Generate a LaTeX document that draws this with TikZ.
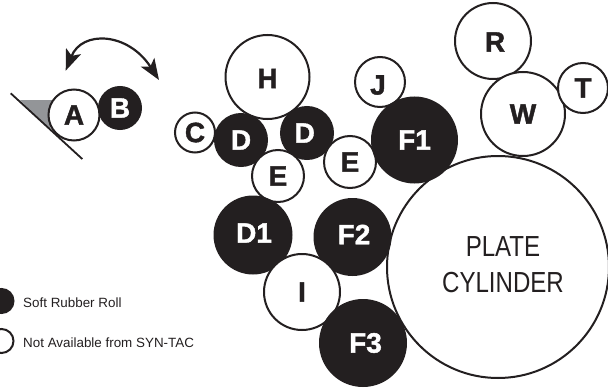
\documentclass[tikz,border=0pt]{standalone}
\usepackage{fontspec}
\setmainfont{Liberation Sans}
\newfontfamily\PlateFont[FakeStretch=0.83]{Liberation Sans}
\newfontfamily\RollFont[BoldFeatures={FakeBold=1.5}]{Liberation Sans}
\usepackage{xcolor}
\usetikzlibrary{arrows.meta}
\definecolor{ColInk}{RGB}{35,31,32}
\definecolor{ColWedge}{RGB}{147,149,152}
\tikzstyle{RollWhite}=[circle,draw=ColInk,fill=white,inner sep=0pt,line width=2pt,
font=\RollFont\fontsize{28}{28}\selectfont\bfseries,text=ColInk]
\tikzstyle{RollBlack}=[circle,draw=ColInk,fill=ColInk,inner sep=0pt,line width=2pt,
font=\RollFont\fontsize{28}{28}\selectfont\bfseries,text=white]
\tikzstyle{TagInk}=[inner sep=0pt,font=\RollFont\fontsize{28}{28}\selectfont\bfseries,text=ColInk]
\tikzstyle{TagWhite}=[inner sep=0pt,font=\RollFont\fontsize{28}{28}\selectfont\bfseries,text=white]
\tikzstyle{LegendText}=[anchor=west,inner sep=0pt,text=ColInk,font=\fontsize{13.4}{13.4}\selectfont]
\tikzstyle{PlateText}=[inner sep=0pt,align=center,text=ColInk,font=\PlateFont\fontsize{29}{36}\selectfont]
\tikzstyle{Swing}=[ColInk,line width=2.2pt,{Stealth[length=21pt,width=16pt,inset=5pt]}-{Stealth[length=21pt,width=16pt,inset=5pt]}]
\begin{document}
\begin{tikzpicture}[x=1pt,y=-1pt]
        \useasboundingbox(0,0)rectangle(608,388);
        % blade and swing arrow
        \fill[ColWedge](20,100)--(56,100)--(50,130)--cycle;
        \coordinate(bladeA)at(10.7,93.3);
        \coordinate(bladeB)at(82.3,159);
        \draw[ColInk,line width=1.8pt](bladeA)--(bladeB);
        \coordinate(swingA)at(65.7,70.7);
        \coordinate(swingB)at(159,80);
        \draw[Swing](swingA)..controls(82,30)and(128,32)..(swingB);
        % rolls
        \node[RollWhite,minimum size=222pt](plate)at(498,267){};
        \node[PlateText](platetext)at(503,265){PLATE\\CYLINDER};
        \node[RollWhite,minimum size=51pt](a)at(74,115){A};
        \node[RollBlack,minimum size=42pt](b)at(120,108){B};
        \node[RollWhite,minimum size=40pt](c)at(195,132.5){C};
        \node[RollWhite,minimum size=84pt,label={[TagInk,shift={(0,1.5)}]center:H}](h)at(267.5,77){};
        \node[RollBlack,minimum size=52pt](dl)at(241,140){D};
        \node[RollBlack,minimum size=52pt,label={[TagWhite,shift={(-2.3,0)}]center:D}](dr)at(307,133){};
        \node[RollWhite,minimum size=52pt](el)at(278,176){E};
        \node[RollWhite,minimum size=52pt](er)at(350,162){E};
        \node[RollWhite,minimum size=50pt,label={[TagInk,shift={(-2,3)}]center:J}](j)at(380,82){};
        \node[RollBlack,minimum size=85pt](fa)at(414.5,140){F1};
        \node[RollWhite,minimum size=76pt,label={[TagInk,shift={(2,1)}]center:R}](r)at(493,41){};
        \node[RollWhite,minimum size=84pt](w)at(523,114){W};
        \node[RollWhite,minimum size=50pt](t)at(583,88){T};
        \node[RollBlack,minimum size=77pt,label={[TagWhite,shift={(1,-2)}]center:D1}](dd)at(253,235){};
        \node[RollBlack,minimum size=76pt,label={[TagWhite,shift={(1.5,-2.5)}]center:F2}](fb)at(352.5,237){};
        \node[RollWhite,minimum size=76pt](i)at(302,292){I};
        \node[RollBlack,minimum size=86pt,label={[TagWhite,shift={(2.5,0)}]center:F3}](fc)at(363,343){};
        % legend
        \node[RollBlack,minimum size=24pt](keyA)at(1.5,301){};
        \node[RollWhite,minimum size=24pt](keyB)at(1.5,341){};
        \node[LegendText](textA)at(23,303){Soft Rubber Roll};
        \node[LegendText](textB)at(23,343){Not Available from SYN-TAC};
    \end{tikzpicture}
\end{document}
